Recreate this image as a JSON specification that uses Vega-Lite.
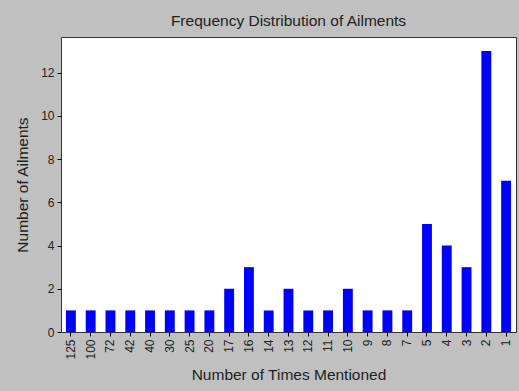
{
  "$schema": "https://vega.github.io/schema/vega-lite/v6.json",
  "width": 455,
  "height": 295,
  "autosize": {"type": "none"},
  "padding": {"left": 61, "top": 37, "right": 3, "bottom": 59},
  "background": "#c0c0c0",
  "title": {
    "text": "Frequency Distribution of Ailments",
    "font": "Liberation Sans",
    "fontSize": 15.5,
    "fontWeight": "normal",
    "color": "#222222",
    "offset": 8,
    "anchor": "middle"
  },
  "data": {
    "values": [
      {"times": "125", "count": 1},
      {"times": "100", "count": 1},
      {"times": "72", "count": 1},
      {"times": "42", "count": 1},
      {"times": "40", "count": 1},
      {"times": "30", "count": 1},
      {"times": "25", "count": 1},
      {"times": "20", "count": 1},
      {"times": "17", "count": 2},
      {"times": "16", "count": 3},
      {"times": "14", "count": 1},
      {"times": "13", "count": 2},
      {"times": "12", "count": 1},
      {"times": "11", "count": 1},
      {"times": "10", "count": 2},
      {"times": "9", "count": 1},
      {"times": "8", "count": 1},
      {"times": "7", "count": 1},
      {"times": "5", "count": 5},
      {"times": "4", "count": 4},
      {"times": "3", "count": 3},
      {"times": "2", "count": 13},
      {"times": "1", "count": 7}
    ]
  },
  "mark": {"type": "bar", "color": "#0000ff"},
  "encoding": {
    "x": {
      "field": "times",
      "type": "ordinal",
      "sort": null,
      "scale": {"paddingInner": 0.5, "paddingOuter": 0.25},
      "axis": {
        "title": "Number of Times Mentioned",
        "labelAngle": -90,
        "labelAlign": "right",
        "labelBaseline": "middle",
        "labelPadding": 3,
        "tickSize": 4,
        "tickColor": "#000000",
        "domain": false,
        "titlePadding": 8
      }
    },
    "y": {
      "field": "count",
      "type": "quantitative",
      "scale": {"domain": [0, 13.65], "nice": false},
      "axis": {
        "title": "Number of Ailments",
        "values": [0, 2, 4, 6, 8, 10, 12],
        "grid": false,
        "tickSize": 4,
        "tickColor": "#000000",
        "domain": false,
        "labelPadding": 3,
        "titlePadding": 10
      }
    }
  },
  "config": {
    "view": {"fill": "#ffffff", "stroke": "#333333", "strokeWidth": 1},
    "axis": {
      "labelFont": "Liberation Sans",
      "labelFontSize": 12,
      "labelColor": "#222222",
      "titleFont": "Liberation Sans",
      "titleFontSize": 15.5,
      "titleFontWeight": "normal",
      "titleColor": "#222222"
    }
  }
}
